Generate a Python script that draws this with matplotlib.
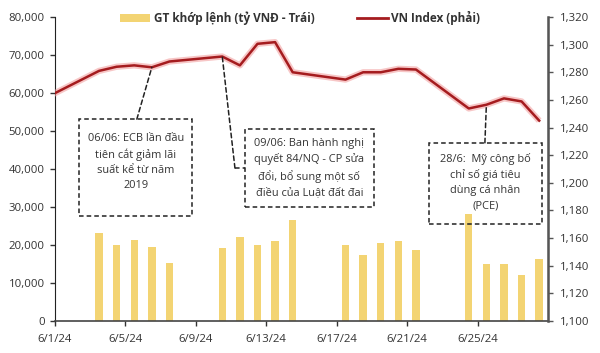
import matplotlib
matplotlib.use("Agg")
import matplotlib.pyplot as plt
import matplotlib.dates as mdates
from matplotlib.patches import Rectangle, Patch
from matplotlib.lines import Line2D
import numpy as np
import datetime as dt

plt.rcParams['font.family'] = ['Open Sans', 'DejaVu Sans']

# ---- data ----
bar_dates = ["2024-06-03", "2024-06-04", "2024-06-05", "2024-06-06", "2024-06-07",
             "2024-06-10", "2024-06-11", "2024-06-12", "2024-06-13", "2024-06-14",
             "2024-06-17", "2024-06-18", "2024-06-19", "2024-06-20", "2024-06-21",
             "2024-06-24", "2024-06-25", "2024-06-26", "2024-06-27", "2024-06-28"]
gt_khop_lenh = [23100, 19900, 21200, 19600, 15200,
                19200, 22000, 20000, 21150, 26600,
                20000, 17400, 20400, 21100, 18600,
                28200, 15100, 15100, 12100, 16400]
line_dates = ["2024-05-31"] + bar_dates
vn_index = [1261.7,
            1281.0, 1284.0, 1285.0, 1283.6, 1287.8,
            1291.4, 1285.0, 1300.6, 1301.8, 1280.0,
            1274.7, 1280.0, 1280.0, 1282.5, 1282.0,
            1253.8, 1256.5, 1261.1, 1258.9, 1245.0]
x_tick_dates = ["2024-06-01", "2024-06-05", "2024-06-09", "2024-06-13",
                "2024-06-17", "2024-06-21", "2024-06-25"]
legend_labels = ["GT khớp lệnh (tỷ VNĐ - Trái)", "VN Index (phải)"]
notes = ["06/06: ECB lần đầu\ntiên cắt giảm lãi\nsuất kể từ năm\n2019",
         "09/06: Ban hành nghị\nquyết 84/NQ - CP sửa\nđổi, bổ sung một số\nđiều của Luật đất đai",
         "28/6:  Mỹ công bố\nchỉ số giá tiêu\ndùng cá nhân\n(PCE)"]
note_dates = ["2024-06-06", "2024-06-10", "2024-06-25"]

# ---- helpers ----
def dnum(s):
    return mdates.date2num(dt.datetime.strptime(s, "%Y-%m-%d"))

bx = np.array([dnum(d) for d in bar_dates]) + 0.5
lx = np.array([dnum(d) for d in line_dates]) + 0.5

BAR_C = '#F3D473'
LINE_C = '#A51C1F'
TXT_C = '#333333'

fig = plt.figure(figsize=(6.0, 3.53), dpi=100)
ax = fig.add_axes([55/600, 1-321/353, 493/600, 304/353])
ax2 = ax.twinx()

ax.bar(bx, gt_khop_lenh, width=0.42, color=BAR_C, zorder=2)
ax.set_ylim(0, 80000)
ax.set_yticks(np.arange(0, 80001, 10000))
ax.yaxis.set_major_formatter(matplotlib.ticker.FuncFormatter(lambda v, p: f"{int(v):,}"))
ax.set_xlim(dnum("2024-06-01"), dnum("2024-06-29"))
ax.set_xticks([dnum(d) for d in x_tick_dates])
ax.set_xticklabels([f"{int(d[5:7])}/{int(d[8:10])}/{d[2:4]}" for d in x_tick_dates])

ax2.plot(lx, vn_index, color='#F2A0A0', lw=4.5, alpha=0.6, solid_capstyle='butt', zorder=3)
ax2.plot(lx, vn_index, color=LINE_C, lw=1.8, zorder=4)
ax2.set_ylim(1100, 1320)
ax2.set_yticks(np.arange(1100, 1321, 20))
ax2.yaxis.set_major_formatter(matplotlib.ticker.FuncFormatter(lambda v, p: f"{int(v):,}"))

for a in (ax, ax2):
    a.spines['top'].set_visible(False)
    a.tick_params(labelsize=8.2, colors=TXT_C, length=3.5, width=1)
ax.spines['left'].set_color('#222222')
ax.spines['bottom'].set_color('#444444')
ax.spines['bottom'].set_linewidth(1.2)
ax2.spines['right'].set_color('#555555')
ax2.spines['right'].set_linewidth(1.8)
ax2.spines['left'].set_visible(False)
ax2.spines['bottom'].set_visible(False)
ax.tick_params(axis='x', pad=6)
ax.tick_params(axis='y', pad=4)
ax2.tick_params(axis='y', pad=5, color='#555555')

# ---- annotations (boxes in axes fraction) ----
boxes = [(0.049, 0.345, 0.229, 0.319), (0.385, 0.375, 0.262, 0.257), (0.759, 0.319, 0.229, 0.267)]
text_pos = [(0.164, 0.523), (0.516, 0.503), (0.873, 0.457)]
for (x0, y0, w, h), (tx, ty), t in zip(boxes, text_pos, notes):
    ax2.add_patch(Rectangle((x0, y0), w, h, transform=ax2.transAxes, fill=False,
                            edgecolor='#222222', lw=1.1,
                            linestyle=(0, (3, 2)), zorder=5))
    ax2.text(tx, ty, t, transform=ax2.transAxes, ha='center', va='center',
             fontsize=7.9, color=TXT_C, linespacing=1.5, zorder=6)

idx = {d: i for i, d in enumerate(line_dates)}
conn_ends = [(0.166, 0.664), (0.365, 0.503), (0.872, 0.586)]
for d, (ex, ey) in zip(note_dates, conn_ends):
    i = idx[d]
    ax2.annotate('', xy=(lx[i], vn_index[i]), xycoords='data',
                 xytext=(ex, ey), textcoords='axes fraction',
                 arrowprops=dict(arrowstyle='-', linestyle=(0, (3, 2)), color='#222222',
                                 lw=1.1, shrinkA=0, shrinkB=0), zorder=5)
ax2.plot([0.365, 0.385], [0.503, 0.503], transform=ax2.transAxes, color='#222222',
         lw=1.1, linestyle=(0, (3, 2)), zorder=5)

# ---- legend ----
handles = [Patch(facecolor=BAR_C, edgecolor='none'),
           Line2D([0], [0], color=LINE_C, lw=2)]
leg = fig.legend(handles, legend_labels, loc='center', bbox_to_anchor=(0.50, 0.948),
                 ncol=2, frameon=False, columnspacing=3.6, handlelength=2.6,
                 handletextpad=0.3, prop={'weight': 'bold', 'size': 8.5})
for t in leg.get_texts():
    t.set_color(TXT_C)

fig.savefig("out.png", dpi=100, facecolor='white')
